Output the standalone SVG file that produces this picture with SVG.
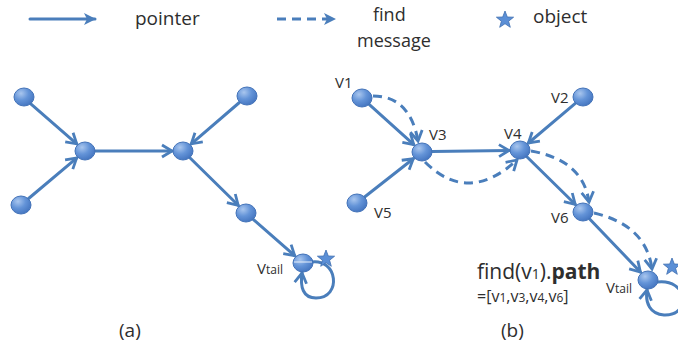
<svg xmlns="http://www.w3.org/2000/svg" width="678" height="349" viewBox="0 0 678 349">
  <defs>
    <radialGradient id="nodeFill" cx="0.35" cy="0.3" r="0.75">
      <stop offset="0" stop-color="#a9c6ee"/>
      <stop offset="0.5" stop-color="#6494d8"/>
      <stop offset="1" stop-color="#4374bf"/>
    </radialGradient>
    <marker id="open" markerUnits="userSpaceOnUse" markerWidth="16" markerHeight="16" refX="11" refY="7" orient="auto" viewBox="0 0 16 14">
      <path d="M1,1 L11,7 L1,13" fill="none" stroke="#4a7ebb" stroke-width="2.8" stroke-linejoin="miter"/>
    </marker>
    <marker id="solidHead" markerUnits="userSpaceOnUse" markerWidth="14" markerHeight="14" refX="11" refY="6" orient="auto" viewBox="0 0 14 12">
      <path d="M0,0 L12,6 L0,12 L3,6 Z" fill="#4a7ebb"/>
    </marker>
    <path id="star" d="M0,-9 L2.3,-3 L8.6,-2.8 L3.6,1.2 L5.3,7.3 L0,3.7 L-5.3,7.3 L-3.6,1.2 L-8.6,-2.8 L-2.3,-3 Z"/>
  </defs>
  <style>
    .edge { fill: none; stroke: #4a7ebb; stroke-width: 3; stroke-linecap: round; }
    .dash { stroke-dasharray: 9 6; stroke-linecap: butt; }
    .node { fill: url(#nodeFill); stroke: #4272b8; stroke-width: 1; }
    .star { fill: #5b8fd6; stroke: #3f6fb0; stroke-width: 0.8; }
    .lbl { font-family: "Open Sans", "Liberation Sans", sans-serif; fill: #2e2e2e; }
    .legend { font-size: 19px; }
    .nl { font-size: 15px; }
  </style>
  <rect width="678" height="349" fill="#ffffff"/>

  <!-- legend -->
  <g id="legend">
    <line x1="30" y1="19" x2="95" y2="19" class="edge" marker-end="url(#solidHead)"/>
    <text x="135" y="25" class="lbl legend">pointer</text>
    <line x1="277" y1="19" x2="335" y2="19" class="edge dash" marker-end="url(#solidHead)"/>
    <text x="373" y="21" class="lbl" font-size="18">find</text>
    <text x="357" y="47" class="lbl" font-size="18">message</text>
    <use href="#star" x="505" y="20" class="star"/>
    <text x="533" y="23" class="lbl legend">object</text>
  </g>

  <!-- (a) connectors -->
  <g id="edges-a">
    <line x1="30.5" y1="103.6" x2="76.7" y2="143.8" class="edge" marker-end="url(#open)"/>
    <line x1="28.6" y1="198.5" x2="76.6" y2="158.1" class="edge" marker-end="url(#open)"/>
    <line x1="95" y1="151" x2="172" y2="151" class="edge" marker-end="url(#open)"/>
    <line x1="239.4" y1="102.5" x2="191.3" y2="143.8" class="edge" marker-end="url(#open)"/>
    <line x1="190.1" y1="158" x2="238.2" y2="205.3" class="edge" marker-end="url(#open)"/>
    <line x1="253.5" y1="219.6" x2="294.7" y2="255.7" class="edge" marker-end="url(#open)"/>
    <path d="M311,262 C338,258 342,298 316,298 C303,298 300,287 302,273" class="edge" marker-end="url(#open)"/>
  </g>

  <!-- (a) nodes -->
  <g id="a-n1"><ellipse cx="24" cy="97" rx="10" ry="9" class="node"/></g>
  <g id="a-n2"><ellipse cx="21" cy="205" rx="10" ry="9" class="node"/></g>
  <g id="a-n3"><ellipse cx="85" cy="151" rx="10" ry="9" class="node"/></g>
  <g id="a-n4"><ellipse cx="183" cy="151" rx="10" ry="9" class="node"/></g>
  <g id="a-n5"><ellipse cx="247" cy="96" rx="10" ry="9" class="node"/></g>
  <g id="a-n6"><ellipse cx="246" cy="213" rx="10" ry="9" class="node"/></g>
  <g id="a-tail">
    <ellipse cx="303" cy="263" rx="10" ry="9" class="node"/>
    <line x1="294" y1="262" x2="312" y2="262" stroke="#e8f0fb" stroke-width="1"/>
    <use href="#star" x="326" y="259" class="star"/>
    <text x="257" y="274" class="lbl" font-size="15"><tspan>V</tspan><tspan font-size="12">tail</tspan></text>
  </g>
  <text x="119" y="337" class="lbl" font-size="19">(a)</text>

  <!-- (b) connectors -->
  <g id="edges-b">
    <line x1="369.4" y1="104.7" x2="413.8" y2="144.6" class="edge" marker-end="url(#open)"/>
    <line x1="364.9" y1="196.8" x2="413.3" y2="158.8" class="edge" marker-end="url(#open)"/>
    <line x1="432" y1="151.5" x2="509" y2="150.5" class="edge" marker-end="url(#open)"/>
    <line x1="575.3" y1="103.4" x2="528.4" y2="143" class="edge" marker-end="url(#open)"/>
    <line x1="527.1" y1="157" x2="575.2" y2="204.3" class="edge" marker-end="url(#open)"/>
    <line x1="589.9" y1="219.2" x2="640.4" y2="272" class="edge" marker-end="url(#open)"/>
    <path d="M657,282 C688,278 692,316 664,315 C650,314 645,303 647,290" class="edge" marker-end="url(#open)"/>
    <!-- find message hops -->
    <path d="M373,96 Q410,96 418,141" class="edge dash" marker-end="url(#open)"/>
    <path d="M425,162 Q468,205 517,160" class="edge dash" marker-end="url(#open)"/>
    <path d="M531,151 Q583,160 589,202" class="edge dash" marker-end="url(#open)"/>
    <path d="M594,213 Q646,225 652,269" class="edge dash" marker-end="url(#open)"/>
  </g>

  <!-- (b) nodes -->
  <g id="v1"><ellipse cx="362" cy="98" rx="10" ry="9" class="node"/><text x="335" y="88" class="lbl nl">V1</text></g>
  <g id="v2"><ellipse cx="583" cy="97" rx="10" ry="9" class="node"/><text x="551" y="103" class="lbl nl">V2</text></g>
  <g id="v3"><ellipse cx="422" cy="152" rx="10" ry="9" class="node"/><text x="429" y="140" class="lbl nl">V3</text></g>
  <g id="v4"><ellipse cx="520" cy="150" rx="10" ry="9" class="node"/><text x="504" y="139" class="lbl nl">V4</text></g>
  <g id="v5"><ellipse cx="357" cy="203" rx="10" ry="9" class="node"/><text x="374" y="218" class="lbl nl">V5</text></g>
  <g id="v6"><ellipse cx="583" cy="212" rx="10" ry="9" class="node"/><text x="551" y="223" class="lbl nl">V6</text></g>
  <g id="vtail">
    <ellipse cx="648" cy="280" rx="10" ry="9" class="node"/>
    <use href="#star" x="672" y="267" class="star"/>
    <text x="606" y="293" class="lbl" font-size="15"><tspan>V</tspan><tspan font-size="12">tail</tspan></text>
  </g>

  <text x="477" y="279" class="lbl" font-size="21">find(v<tspan font-size="14">1</tspan>).<tspan font-weight="bold">path</tspan></text>
  <text x="477" y="302" class="lbl" font-size="16">=[v<tspan font-size="12">1</tspan>,v<tspan font-size="12">3</tspan>,v<tspan font-size="12">4</tspan>,v<tspan font-size="12">6</tspan>]</text>
  <text x="501" y="337" class="lbl" font-size="19">(b)</text>
</svg>
